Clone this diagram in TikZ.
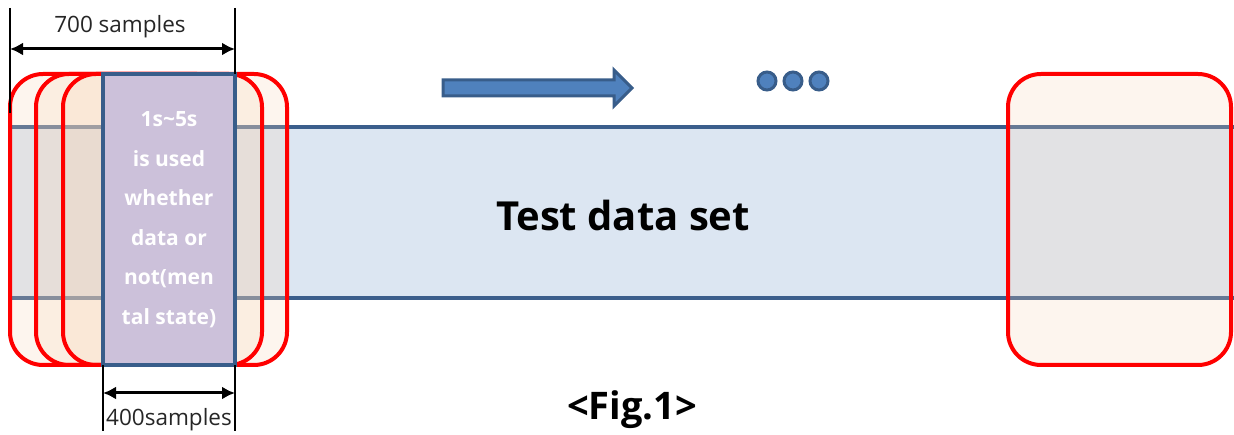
\documentclass[tikz,border=0pt]{standalone}
\usepackage{fontspec}
\setmainfont{Open Sans}
\usetikzlibrary{arrows.meta}
\definecolor{bandline}{HTML}{3B5E8C}
\definecolor{bandfill}{HTML}{DCE6F2}
\definecolor{peach}{HTML}{F6D5B6}
\definecolor{purplefill}{HTML}{CCC1DA}
\definecolor{bluefill}{HTML}{4F81BD}
\definecolor{blueline}{HTML}{385D8A}
\tikzset{
  win/.style={draw=red, line width=4pt, fill=peach, fill opacity=0.23, text opacity=1,
    rounded corners=33pt, minimum height=291pt, inner sep=0pt},
  selbox/.style={draw=blueline, line width=3.5pt, fill=purplefill, rounded corners=0pt,
    minimum height=291pt, minimum width=132pt, inner sep=0pt, text=white,
    font=\bfseries\fontsize{21}{39.5}\selectfont, align=center},
  dimline/.style={black, line width=1.1pt},
  dimarrow/.style={black, line width=3pt, {Latex[length=13pt,width=13pt]}-{Latex[length=13pt,width=13pt]}},
  dimlabel/.style={font=\fontsize{22.5}{26}\selectfont, text=black!85, inner sep=0pt},
  dot/.style={circle, draw=blueline, line width=3pt, fill=bluefill, minimum size=18pt, inner sep=0pt}
}
\begin{document}
\begin{tikzpicture}[x=1pt,y=-1pt]
\useasboundingbox (0,0) rectangle (1234,435);
% band
\fill[bandfill] (10,127) rectangle (1234,298);
\coordinate (bandTL) at (10,127);
\coordinate (bandTR) at (1234,127);
\coordinate (bandBL) at (10,298);
\coordinate (bandBR) at (1234,298);
\draw[bandline, line width=3.5pt] (bandTL) -- (bandTR);
\draw[bandline, line width=3.5pt] (bandBL) -- (bandBR);
% windows
\node[win, minimum width=277pt] (w1) at (148.5,219.5) {};
\node[win, minimum width=226pt] (w2) at (149,219.5) {};
\node[win, minimum width=167pt] (w3) at (146.5,219.5) {};
\node[win, minimum width=223pt] (wr) at (1119.5,219.5) {};
\node[selbox] (sel) at (169,219.5) {1s\textasciitilde5s\\is used\\whether\\data or\\not(men\\tal state)};
% test data set label
\node[font=\bfseries\fontsize{40}{44}\selectfont, inner sep=0pt] (tds) at (623,216) {Test data set};
% arrow
\draw[blueline, line width=3pt, fill=bluefill, line join=miter]
  (443,80) -- (614,80) -- (614,70) -- (632,88) -- (614,106) -- (614,96) -- (443,96) -- cycle;
% dots
\node[dot] (d1) at (767,81) {};
\node[dot] (d2) at (793,81) {};
\node[dot] (d3) at (819,81) {};
% 700 samples dimension
\coordinate (t1a) at (10,8);
\coordinate (t1b) at (10,113);
\coordinate (t2a) at (235,8);
\coordinate (t2b) at (235,74);
\draw[dimline] (t1a) -- (t1b);
\draw[dimline] (t2a) -- (t2b);
\coordinate (a7l) at (10,49);
\coordinate (a7r) at (235,49);
\draw[dimarrow] (a7l) -- (a7r);
\node[dimlabel] (l700) at (120,27) {700 samples};
% 400 samples dimension
\coordinate (b1a) at (103,365);
\coordinate (b1b) at (103,431);
\coordinate (b2a) at (235,365);
\coordinate (b2b) at (235,431);
\draw[dimline] (b1a) -- (b1b);
\draw[dimline] (b2a) -- (b2b);
\coordinate (a4l) at (103,393);
\coordinate (a4r) at (235,393);
\draw[dimarrow] (a4l) -- (a4r);
\node[dimlabel] (l400) at (169,420) {400samples};
% caption
\node[font=\bfseries\fontsize{38}{42}\selectfont, inner sep=0pt] (cap) at (632,410) {<Fig.1>};
\end{tikzpicture}
\end{document}
